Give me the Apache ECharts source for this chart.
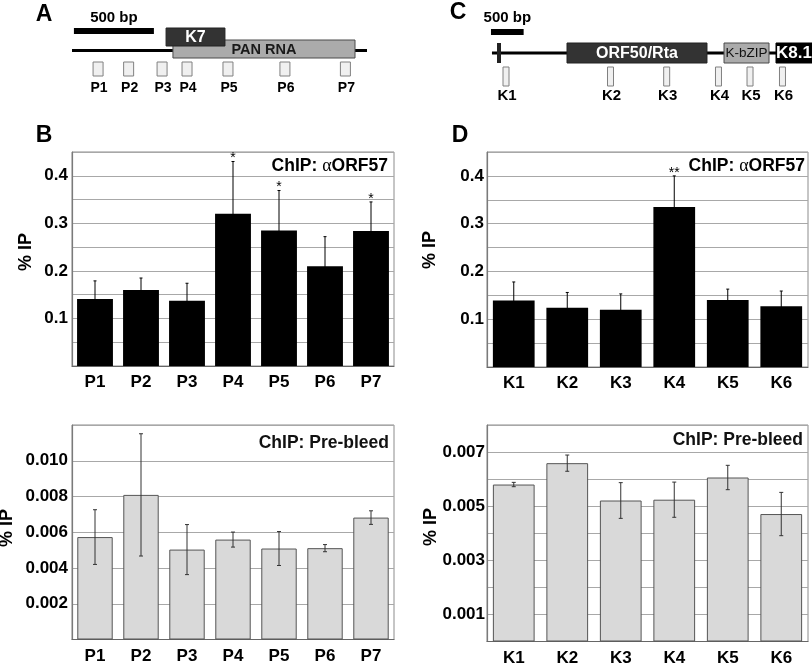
<!DOCTYPE html>
<html><head><meta charset="utf-8">
<script src="https://cdn.jsdelivr.net/npm/echarts@6/dist/echarts.min.js"></script>
<style>html,body{margin:0;padding:0;background:#fff}#c{width:812px;height:664px}</style>
</head><body><div id="c"></div>
<script>
// ---------------- DATA ----------------
// Panel A: PAN / K7 locus map (positions in bp)
const mapAScaleBp = [12, 512];
const mapALineBp = [0, 1844];
const mapAGeneNames = ['PAN RNA', 'K7'];
const mapAGeneStart = [631, 588];
const mapAGeneEnd = [1769, 956];
const probesA = ['P1', 'P2', 'P3', 'P4', 'P5', 'P6', 'P7'];
const probePosA = [163, 354, 563, 719, 975, 1331, 1709];

// Panel C: ORF50 / K8.1 locus map (positions in bp)
const mapCScaleBp = [15, 515];
const mapCLineBp = [30, 4400];
const mapCMarkBp = [107, 168];
const mapCGeneNames = ['ORF50/Rta', 'K-bZIP', 'K8.1'];
const mapCGeneStart = [1179, 3583, 4379];
const mapCGeneEnd = [3322, 4272, 4930];
const probesC = ['K1', 'K2', 'K3', 'K4', 'K5', 'K6'];
const probePosC = [245, 1845, 2705, 3498, 3981, 4478];

// Panel B: ChIP anti-ORF57, PAN probes (% IP)
const ipB = [0.141, 0.160, 0.137, 0.320, 0.285, 0.210, 0.284];
const sdB = [0.038, 0.025, 0.037, 0.110, 0.084, 0.062, 0.061];
const sigB = ['', '', '', '*', '*', '', '*'];
const ticksB = ['0.1', '0.2', '0.3', '0.4'];

// Panel D: ChIP anti-ORF57, K probes (% IP)
const ipD = [0.139, 0.124, 0.120, 0.335, 0.140, 0.127];
const sdD = [0.039, 0.032, 0.033, 0.065, 0.023, 0.032];
const sigD = ['', '', '', '**', '', ''];
const ticksD = ['0.1', '0.2', '0.3', '0.4'];

// Lower left: ChIP pre-bleed, PAN probes (% IP)
const preP = [0.00573, 0.00809, 0.00503, 0.00559, 0.00509, 0.00511, 0.00682];
const sdPreP = [0.00153, 0.00342, 0.00140, 0.00042, 0.00095, 0.00020, 0.00038];
const ticksE = ['0.002', '0.004', '0.006', '0.008', '0.010'];

// Lower right: ChIP pre-bleed, K probes (% IP)
const preK = [0.00580, 0.00659, 0.00521, 0.00524, 0.00606, 0.00471];
const sdPreK = [0.00008, 0.00030, 0.00066, 0.00065, 0.00045, 0.00080];
const ticksF = ['0.001', '0.003', '0.005', '0.007'];

// ---------------- RENDERING ----------------
const FONT = '"Liberation Sans", Arial, Helvetica, sans-serif';

function txt(x, y, text, size, weight, fill, align, valign) {
  align = align || 'center'; valign = valign || 'middle';
  return { type: 'text', x: x, y: y, style: {
    text: text, fontSize: size, fontWeight: weight, fontFamily: FONT, fill: fill,
    align: align, verticalAlign: valign, textAlign: align, textVerticalAlign: valign } };
}
function rectEl(x0, y0, x1, y1, fill, stroke, lw) {
  return { type: 'rect', shape: { x: x0, y: y0, width: x1 - x0, height: y1 - y0 },
    style: { fill: fill, stroke: stroke || null, lineWidth: lw || 0 } };
}
function tickFormatter(list) {
  return function (v) {
    const t = list.find(function (s) { return Math.abs(parseFloat(s) - v) < 1e-7; });
    return t || '';
  };
}

// map layout (pixel rows inside the map grids, styling only)
const mapLayoutA = { lineY: 50.5, lineW: 3, scaleY0: 28, scaleY1: 34, scaleTextY: 17.5,
  probeY0: 62, probeY1: 76, probeW: 10, probeLabelY: 88, probeFont: 14 };
const mapLayoutC = { lineY: 53, lineW: 3, scaleY0: 29, scaleY1: 35, scaleTextY: 18,
  probeY0: 67, probeY1: 86, probeW: 6, probeLabelY: 96, probeFont: 15, markY0: 43, markY1: 63 };
const geneStyle = {
  'PAN RNA': { y0: 40, y1: 58, fill: '#ababab', stroke: '#4a4a4a', text: '#1a1a1a', size: 14.5, weight: 'bold' },
  'K7': { y0: 28, y1: 46, fill: '#333333', stroke: '#222', text: '#ffffff', size: 16, weight: 'bold' },
  'ORF50/Rta': { y0: 43, y1: 63, fill: '#333333', stroke: '#222', text: '#ffffff', size: 16, weight: 'bold' },
  'K-bZIP': { y0: 43, y1: 63, fill: '#ababab', stroke: '#4a4a4a', text: '#111111', size: 13.5, weight: 'normal' },
  'K8.1': { y0: 43, y1: 63, fill: '#000000', stroke: '#000', text: '#ffffff', size: 17, weight: 'bold' }
};

function mapSeries(axisIdx, L, lineBp, scaleBp, names, starts, ends, probes, probePos, markBp) {
  const out = [];
  out.push({ type: 'custom', xAxisIndex: axisIdx, yAxisIndex: axisIdx, silent: true,
    data: [[lineBp[0], lineBp[1]]],
    renderItem: function (p, api) {
      const a = api.coord([api.value(0), L.lineY]), b = api.coord([api.value(1), L.lineY]);
      return { type: 'line', shape: { x1: a[0], y1: a[1], x2: b[0], y2: b[1] }, style: { stroke: '#000', lineWidth: L.lineW } };
    } });
  out.push({ type: 'custom', xAxisIndex: axisIdx, yAxisIndex: axisIdx, silent: true,
    data: [[scaleBp[0], scaleBp[1]]],
    renderItem: function (p, api) {
      const a = api.coord([api.value(0), L.scaleY0]), b = api.coord([api.value(1), L.scaleY1]);
      return { type: 'group', children: [
        rectEl(a[0], a[1], b[0], b[1], '#000'),
        txt((a[0] + b[0]) / 2, L.scaleTextY, (api.value(1) - api.value(0)) + ' bp', 15, 'bold', '#000')
      ] };
    } });
  if (markBp) {
    out.push({ type: 'custom', xAxisIndex: axisIdx, yAxisIndex: axisIdx, silent: true,
      data: [[markBp[0], markBp[1]]],
      renderItem: function (p, api) {
        const a = api.coord([api.value(0), L.markY0]), b = api.coord([api.value(1), L.markY1]);
        return rectEl(a[0], a[1], b[0], b[1], '#222');
      } });
  }
  out.push({ type: 'custom', xAxisIndex: axisIdx, yAxisIndex: axisIdx, silent: true,
    data: names.map(function (n, i) { return [starts[i], ends[i]]; }),
    renderItem: function (p, api) {
      const st = geneStyle[names[p.dataIndex]];
      const a = api.coord([api.value(0), st.y0]), b = api.coord([api.value(1), st.y1]);
      return { type: 'group', children: [
        rectEl(a[0], a[1], b[0], b[1], st.fill, st.stroke, 1),
        txt((a[0] + b[0]) / 2, (a[1] + b[1]) / 2 + 0.5, names[p.dataIndex], st.size, st.weight, st.text)
      ] };
    } });
  out.push({ type: 'custom', xAxisIndex: axisIdx, yAxisIndex: axisIdx, silent: true,
    data: probePos.map(function (v) { return [v, 0]; }),
    renderItem: function (p, api) {
      const c = api.coord([api.value(0), L.probeY0]);
      const d = api.coord([api.value(0), L.probeY1]);
      const hw = L.probeW / 2;
      return { type: 'group', children: [
        rectEl(c[0] - hw, c[1], c[0] + hw, d[1], '#f0f0f0', '#808080', 1),
        txt(c[0] + 1, L.probeLabelY, probes[p.dataIndex], L.probeFont, 'bold', '#000')
      ] };
    } });
  return out;
}

function errSeries(axisIdx, values, sds, color, capHalf, sigs, sigSize) {
  return { type: 'custom', xAxisIndex: axisIdx, yAxisIndex: axisIdx, silent: true, z: 5,
    data: values.map(function (v, i) { return [i, v, sds[i]]; }),
    encode: { x: 0, y: 1 },
    renderItem: function (p, api) {
      const i = api.value(0), v = api.value(1), sd = api.value(2);
      const t = api.coord([i, v + sd]), b = api.coord([i, v - sd]);
      const st = { stroke: color, lineWidth: 1 };
      const ch = [
        { type: 'line', shape: { x1: t[0], y1: t[1], x2: b[0], y2: b[1] }, style: st },
        { type: 'line', shape: { x1: t[0] - capHalf, y1: t[1], x2: t[0] + capHalf, y2: t[1] }, style: st },
        { type: 'line', shape: { x1: b[0] - capHalf, y1: b[1], x2: b[0] + capHalf, y2: b[1] }, style: st }
      ];
      const s = sigs ? sigs[p.dataIndex] : '';
      if (s) ch.push(txt(t[0], t[1] + 4, s, sigSize, 'normal', '#000', 'center', 'bottom'));
      return { type: 'group', children: ch };
    } };
}

const plotGrid = { show: true, borderColor: '#8c8c8c', borderWidth: 1, backgroundColor: '#fff', containLabel: false, outerBoundsMode: 'none' };
function g(o) { return Object.assign({}, plotGrid, o); }

function catAxis(idx, cats) {
  return { type: 'category', gridIndex: idx, data: cats, boundaryGap: true,
    axisLine: { show: true, lineStyle: { color: '#666', width: 1.2 } }, axisTick: { show: false },
    axisLabel: { margin: 8, fontSize: 17, fontWeight: 'bold', fontFamily: FONT, color: '#000' } };
}
function valAxis(idx, max, interval, ticks, margin) {
  return { type: 'value', gridIndex: idx, min: 0, max: max, interval: interval,
    axisLine: { show: true, lineStyle: { color: '#7a7a7a', width: 1.2 } }, axisTick: { show: false },
    splitLine: { show: true, lineStyle: { color: '#a8a8a8', width: 1 } },
    axisLabel: { margin: margin, fontSize: 17, fontWeight: 'bold', fontFamily: FONT, color: '#000',
      formatter: tickFormatter(ticks) } };
}
const hiddenX = function (idx, max) { return { type: 'value', gridIndex: idx, min: 0, max: max, show: false }; };
const hiddenY = function (idx) { return { type: 'value', gridIndex: idx, min: 0, max: 100, inverse: true, show: false }; };

const option = {
  animation: false,
  backgroundColor: '#ffffff',
  grid: [
    { left: 72, top: 0, width: 295, height: 100, containLabel: false, outerBoundsMode: 'none' },
    { left: 490, top: 0, width: 322, height: 100, containLabel: false, outerBoundsMode: 'none' },
    g({ left: 72, top: 152, width: 322, height: 214 }),
    g({ left: 487, top: 152, width: 321, height: 215 }),
    g({ left: 72, top: 425, width: 322, height: 214.5 }),
    g({ left: 487, top: 425, width: 321, height: 216.5 })
  ],
  xAxis: [
    hiddenX(0, 1844), hiddenX(1, 4930),
    catAxis(2, probesA), catAxis(3, probesC), catAxis(4, probesA), catAxis(5, probesC)
  ],
  yAxis: [
    hiddenY(0), hiddenY(1),
    valAxis(2, 0.45, 0.05, ticksB, 4), valAxis(3, 0.45, 0.05, ticksD, 3),
    valAxis(4, 0.012, 0.002, ticksE, 4), valAxis(5, 0.008, 0.001, ticksF, 2)
  ],
  series: [].concat(
    mapSeries(0, mapLayoutA, mapALineBp, mapAScaleBp, mapAGeneNames, mapAGeneStart, mapAGeneEnd, probesA, probePosA, null),
    mapSeries(1, mapLayoutC, mapCLineBp, mapCScaleBp, mapCGeneNames, mapCGeneStart, mapCGeneEnd, probesC, probePosC, mapCMarkBp),
    [
      { type: 'bar', xAxisIndex: 2, yAxisIndex: 2, data: ipB, barWidth: '78%', itemStyle: { color: '#000' }, silent: true },
      errSeries(2, ipB, sdB, '#000', 1.5, sigB, 14),
      { type: 'bar', xAxisIndex: 3, yAxisIndex: 3, data: ipD, barWidth: '78%', itemStyle: { color: '#000' }, silent: true },
      errSeries(3, ipD, sdD, '#000', 1.5, sigD, 14),
      { type: 'bar', xAxisIndex: 4, yAxisIndex: 4, data: preP, barWidth: '77%', itemStyle: { color: '#d9d9d9', borderColor: '#555', borderWidth: 1 }, silent: true },
      errSeries(4, preP, sdPreP, '#333', 2, null, 0),
      { type: 'bar', xAxisIndex: 5, yAxisIndex: 5, data: preK, barWidth: '78%', itemStyle: { color: '#d9d9d9', borderColor: '#555', borderWidth: 1 }, silent: true },
      errSeries(5, preK, sdPreK, '#333', 2, null, 0)
    ]
  ),
  graphic: { elements: [
    txt(44, 15, 'A', 23, 'bold', '#000'),
    txt(44, 136, 'B', 23, 'bold', '#000'),
    txt(458, 13, 'C', 23, 'bold', '#000'),
    txt(460, 136, 'D', 23, 'bold', '#000'),
    { type: 'text', x: 388, y: 166, z: 10, style: { text: '{b|ChIP: }{a|α}{b|ORF57}', align: 'right', verticalAlign: 'middle', textAlign: 'right', textVerticalAlign: 'middle',
      rich: { b: { fontSize: 17.5, fontWeight: 'bold', fontFamily: FONT, fill: '#000', color: '#000' }, a: { fontSize: 18, fontFamily: '"Liberation Serif", serif', fill: '#000', color: '#000' } } } },
    { type: 'text', x: 805, y: 166, z: 10, style: { text: '{b|ChIP: }{a|α}{b|ORF57}', align: 'right', verticalAlign: 'middle', textAlign: 'right', textVerticalAlign: 'middle',
      rich: { b: { fontSize: 17.5, fontWeight: 'bold', fontFamily: FONT, fill: '#000', color: '#000' }, a: { fontSize: 18, fontFamily: '"Liberation Serif", serif', fill: '#000', color: '#000' } } } },
    Object.assign(txt(389, 443, 'ChIP: Pre-bleed', 17.5, 'bold', '#111', 'right'), { z: 10 }),
    Object.assign(txt(803, 440, 'ChIP: Pre-bleed', 17.5, 'bold', '#111', 'right'), { z: 10 }),
    Object.assign(txt(26, 252, '% IP', 18, 'bold', '#000'), { rotation: Math.PI / 2 }),
    Object.assign(txt(430.5, 250, '% IP', 18, 'bold', '#000'), { rotation: Math.PI / 2 }),
    Object.assign(txt(7, 528, '% IP', 18, 'bold', '#000'), { rotation: Math.PI / 2 }),
    Object.assign(txt(431, 527, '% IP', 18, 'bold', '#000'), { rotation: Math.PI / 2 })
  ] }
};

const chart = echarts.init(document.getElementById('c'), null, { renderer: 'canvas' });
chart.setOption(option);
</script>
</body></html>
